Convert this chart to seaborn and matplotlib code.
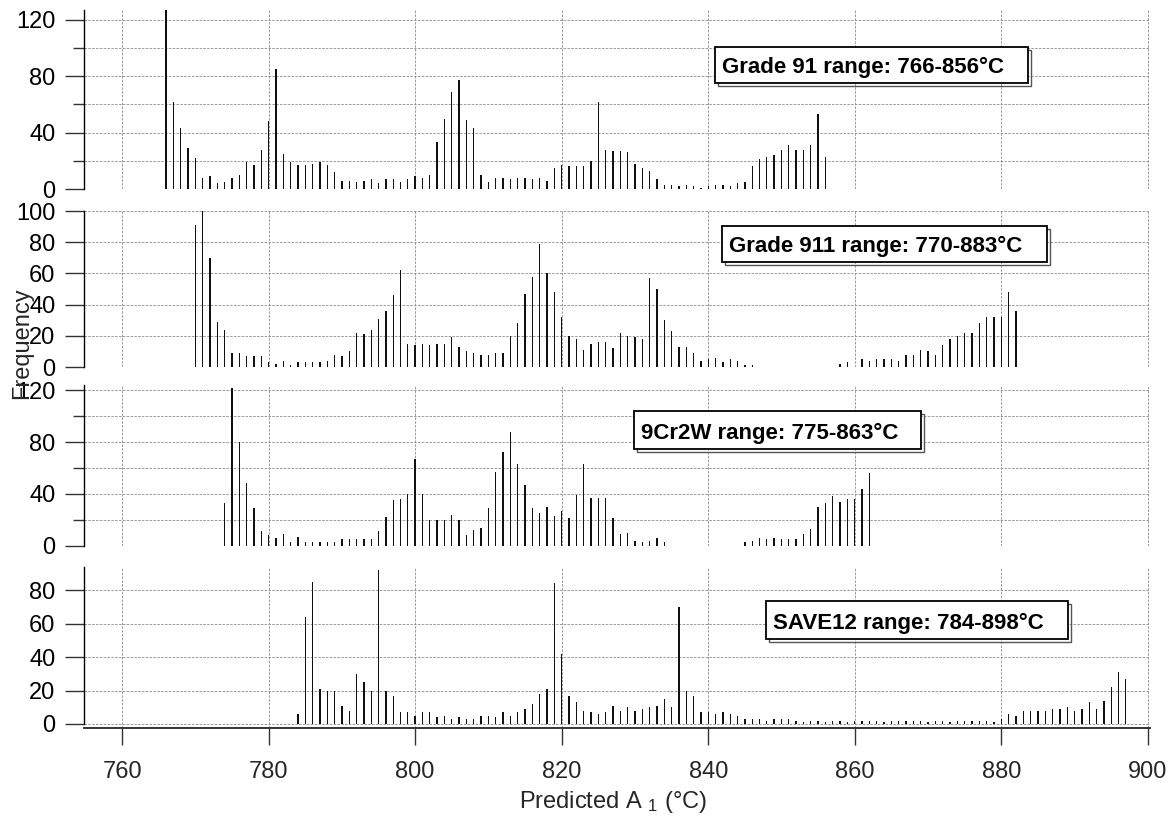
import numpy as np
import pandas as pd
import matplotlib
matplotlib.use("Agg")
import matplotlib.pyplot as plt
import seaborn as sns
from matplotlib.patches import Rectangle
from matplotlib.ticker import MultipleLocator

# ---------------- data ----------------
g91_temps = list(range(766, 857))
g91_counts = [130, 62, 43, 29, 22, 8, 9, 4, 5, 8,
              10, 19, 17, 28, 48, 85, 25, 19, 17, 17,
              18, 19, 17, 12, 6, 6, 5, 6, 7, 4,
              7, 7, 5, 7, 9, 8, 10, 33, 50, 69,
              77, 49, 43, 10, 5, 8, 8, 7, 8, 8,
              7, 8, 6, 15, 17, 16, 16, 16, 20, 62,
              28, 27, 27, 26, 18, 15, 13, 7, 3, 3,
              2, 3, 2, 1, 2, 3, 3, 2, 4, 5,
              16, 21, 23, 24, 28, 31, 28, 28, 31, 53, 23]

g911_temps = list(range(770, 883))
g911_counts = [91, 100, 70, 29, 24, 9, 9, 7, 7, 7,
               3, 2, 4, 1, 3, 3, 3, 3, 4, 8,
               7, 10, 22, 21, 24, 31, 36, 46, 62, 15,
               14, 15, 14, 15, 15, 19, 13, 10, 9, 8,
               8, 9, 9, 20, 28, 47, 58, 79, 60, 48,
               32, 20, 18, 11, 15, 16, 16, 12, 22, 20,
               19, 18, 57, 50, 30, 23, 13, 13, 9, 4,
               5, 6, 3, 5, 4, 1, 1, 0, 0, 0,
               0, 0, 0, 0, 0, 0, 0, 0, 2, 3,
               0, 5, 4, 5, 5, 5, 4, 8, 8, 11,
               10, 8, 14, 18, 20, 22, 22, 28, 32, 32,
               32, 48, 36]

g9cr_temps = list(range(774, 863))
g9cr_counts = [33, 122, 80, 48, 29, 11, 8, 6, 9, 3,
               7, 3, 3, 3, 3, 3, 5, 5, 5, 5,
               5, 11, 22, 35, 36, 40, 67, 40, 20, 20,
               20, 24, 20, 8, 12, 14, 29, 57, 72, 88,
               63, 47, 29, 25, 30, 23, 27, 21, 39, 63,
               37, 37, 37, 21, 9, 10, 4, 3, 4, 6,
               3, 0, 0, 0, 0, 0, 0, 0, 0, 0,
               0, 3, 4, 6, 5, 6, 5, 5, 5, 9,
               13, 30, 33, 38, 34, 36, 36, 44, 56]

save12_temps = list(range(784, 898))
save12_counts = [6, 64, 85, 21, 20, 20, 11, 8, 30, 25,
                 20, 92, 20, 17, 7, 7, 5, 7, 7, 4,
                 5, 3, 4, 3, 3, 5, 5, 4, 7, 5,
                 7, 9, 12, 18, 21, 84, 42, 17, 13, 8,
                 7, 6, 7, 11, 8, 10, 8, 9, 10, 11,
                 15, 10, 70, 20, 17, 7, 7, 6, 7, 6,
                 5, 3, 3, 3, 2, 3, 3, 3, 2, 1,
                 2, 2, 1, 2, 2, 1, 2, 2, 2, 2,
                 1, 2, 2, 2, 2, 2, 1, 2, 2, 1,
                 2, 2, 2, 2, 2, 1, 3, 6, 5, 8,
                 8, 8, 8, 9, 9, 10, 8, 9, 13, 9,
                 14, 22, 31, 27]

labels = ["Grade 91 range: 766-856\u00b0C",
          "Grade 911 range: 770-883\u00b0C",
          "9Cr2W range: 775-863\u00b0C",
          "SAVE12 range: 784-898\u00b0C"]

x_ticks = [760, 780, 800, 820, 840, 860, 880, 900]

# ---------------- style ----------------
sns.set_theme(style="ticks")
plt.rcParams["font.family"] = ["Liberation Sans", "DejaVu Sans"]
plt.rcParams["mathtext.fontset"] = "custom"
plt.rcParams["mathtext.rm"] = "Liberation Sans"
plt.rcParams["mathtext.it"] = "Liberation Sans:italic"

W, H = 1175, 817
fig = plt.figure(figsize=(W / 100, H / 100), dpi=100)


def fx(px):
    return px / W


def fy(py):
    return 1 - py / H


# layout: (top_px, bottom_px, ylim, major step, minor step, box l, r, t, b)
layout = [
    (10, 189, (0, 127), 40, 20, (715, 1028, 47, 83)),
    (211, 367, (0, 100), 20, None, (722, 1047, 226, 262)),
    (385, 545.7, (0, 124), 40, 20, (634, 921, 411, 449)),
    (566.7, 728, (-2.4, 94), 20, None, (766, 1068, 601, 639)),
]
series = [(g91_temps, g91_counts), (g911_temps, g911_counts),
          (g9cr_temps, g9cr_counts), (save12_temps, save12_counts)]

grid_kw = dict(color="#8a8a8a", linestyle=(0, (3, 1.6)), linewidth=0.6)

for i, ((temps, counts), lay, lab) in enumerate(zip(series, layout, labels)):
    top, bot, ylim, major, minor, box = lay
    ax = fig.add_axes([fx(84), fy(bot), fx(1150) - fx(84), (bot - top) / H])
    df = pd.DataFrame({"T": temps, "n": counts})
    sns.histplot(data=df, x="T", weights="n", discrete=True, shrink=0.18,
                 color="#111111", alpha=1, linewidth=0, ax=ax)
    ax.set_xlim(754.8, 900.3)
    ax.set_ylim(*ylim)
    ax.set_xlabel("")
    ax.set_ylabel("")
    ax.set_axisbelow(True)
    ax.set_xticks(x_ticks)
    ax.yaxis.set_major_locator(MultipleLocator(major))
    if minor:
        ax.yaxis.set_minor_locator(MultipleLocator(minor))
        ax.grid(True, which="minor", axis="y", **grid_kw)
    ax.grid(True, which="major", axis="both", **grid_kw)
    for s in ["top", "right"]:
        ax.spines[s].set_visible(False)
    ax.spines["left"].set_color("black")
    ax.spines["left"].set_linewidth(1.0)
    ax.spines["left"].set_bounds(0, ylim[1])
    ax.tick_params(axis="y", which="major", direction="out", length=13.7,
                   width=1.0, color="#333333", pad=7, labelsize=17,
                   left=True, labelcolor="black")
    ax.tick_params(axis="y", which="minor", direction="out", length=8,
                   width=1.0, color="#333333", left=True)
    if i < 3:
        ax.spines["bottom"].set_visible(False)
        ax.tick_params(axis="x", bottom=False, labelbottom=False)
    else:
        ax.spines["bottom"].set_color("#333333")
        ax.spines["bottom"].set_linewidth(1.4)
        ax.tick_params(axis="x", direction="out", length=12, width=1.0,
                       color="#333333", pad=12, labelsize=17, bottom=True)
    ax.patch.set_alpha(0)

    # annotation box with a light drop shadow
    l, r, t, b = box
    shadow = Rectangle((fx(l + 3), fy(b + 3)), (r - l) / W, (b - t) / H,
                       transform=fig.transFigure, fill=False,
                       edgecolor="#555555", linewidth=1.0, zorder=4)
    rect = Rectangle((fx(l), fy(b)), (r - l) / W, (b - t) / H,
                     transform=fig.transFigure, facecolor="white",
                     edgecolor="black", linewidth=1.3, zorder=5)
    fig.add_artist(shadow)
    fig.add_artist(rect)
    fig.text(fx(l + 7), fy(b - 10), lab, ha="left", va="baseline",
             fontsize=16, fontweight="bold", color="black", zorder=6)

fig.text(fx(22), fy(343), "Frequency", rotation=90, ha="center",
         va="center", fontsize=17)
fig.text(fx(613), fy(808), "Predicted A $_{\\mathrm{1}}$ (\u00b0C)",
         ha="center", va="baseline", fontsize=17)

fig.savefig("out.png", dpi=100)
